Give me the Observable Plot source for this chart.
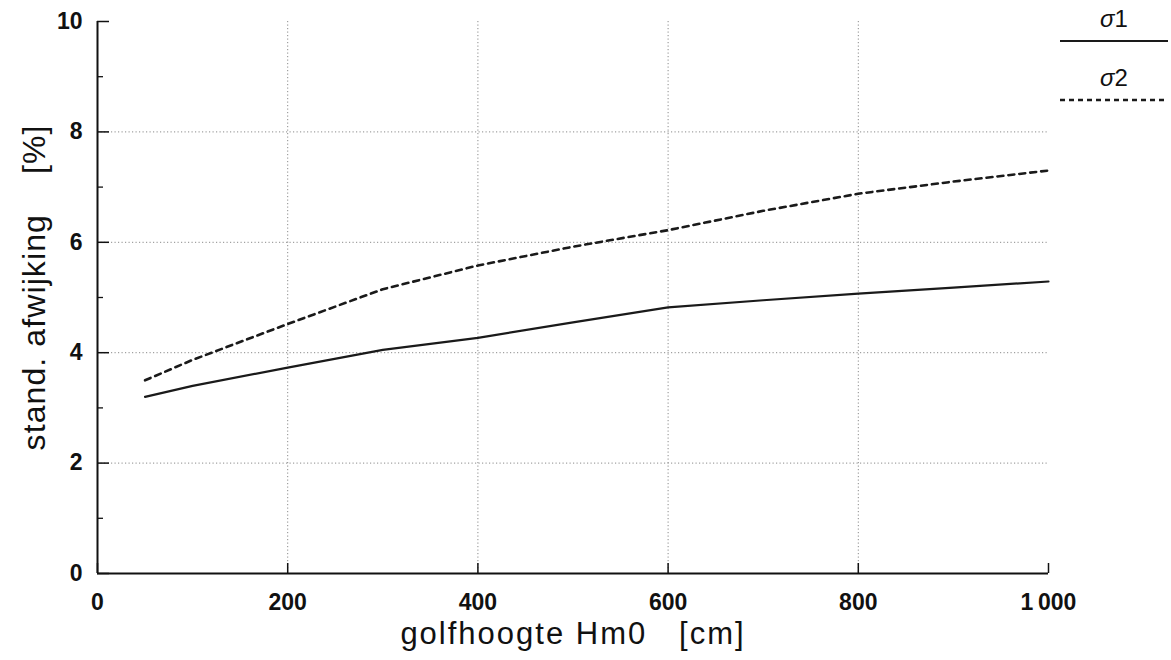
<!DOCTYPE html>
<html><head><meta charset="utf-8">
<script src="https://cdn.jsdelivr.net/npm/d3@7"></script>
<script src="https://cdn.jsdelivr.net/npm/@observablehq/plot@0.6"></script>
<style>
body{margin:0;background:#fff;font-family:"Liberation Sans",Arial,sans-serif;color:#111;}
#wrap{position:relative;width:1171px;height:660px;}
#legend{position:absolute;left:1058px;top:0;width:112px;}
#legend .lab{position:absolute;width:112px;text-align:center;font-size:24px;left:0;line-height:28px;}
#legend svg{position:absolute;left:0;}
</style></head><body><div id="wrap"><div id="legend"></div></div>
<script>
const hoogte = [50, 100, 200, 300, 400, 500, 600, 700, 800, 900, 1000];
const sigma1 = [3.2, 3.4, 3.73, 4.05, 4.27, 4.55, 4.82, 4.95, 5.07, 5.18, 5.29];
const sigma2 = [3.5, 3.87, 4.52, 5.15, 5.58, 5.92, 6.22, 6.57, 6.88, 7.1, 7.3];
const seriesNames = ["σ1", "σ2"];
const xTicks = [0, 200, 400, 600, 800, 1000];
const yMajor = [0, 2, 4, 6, 8, 10];
const yMinor = [1, 3, 5, 7, 9];
const xGrid = [200, 400, 600, 800];
const yGrid = [2, 4, 6, 8];
const xLabel = "golfhoogte Hm0\u00a0\u00a0\u00a0[cm]";
const yLabel = "stand. afwijking\u00a0\u00a0\u00a0\u00a0[%]";

const s1 = hoogte.map((h, i) => ({h, v: sigma1[i]}));
const s2 = hoogte.map((h, i) => ({h, v: sigma2[i]}));
const gridStyle = {stroke: "#8a8a8a", strokeOpacity: 1, strokeWidth: 1, strokeDasharray: "1.2,2.3"};

const chart = Plot.plot({
  width: 1171, height: 660,
  marginLeft: 97, marginRight: 123, marginTop: 21, marginBottom: 87,
  style: {fontFamily: "Liberation Sans, Arial, sans-serif", fontSize: "23px", color: "#111", background: "white"},
  x: {domain: [0, 1000]},
  y: {domain: [0, 10]},
  marks: [
    Plot.gridX(xGrid, gridStyle),
    Plot.gridY(yGrid, gridStyle),
    Plot.axisY(yMajor, {tickSize: -12, tickPadding: 27, fontSize: 23, fontWeight: 600, strokeWidth: 1.5, label: null, tickFormat: d => String(d)}),
    Plot.axisY(yMinor, {tickSize: -6, tickPadding: 0, strokeWidth: 1.3, label: null, tickFormat: () => ""}),
    Plot.axisX(xTicks, {tickSize: -10, tickPadding: 30, fontSize: 23, fontWeight: 600, strokeWidth: 1.5, label: null,
      tickFormat: d => d === 1000 ? "1\u2009000" : String(d)}),
    Plot.ruleX([0], {stroke: "#111", strokeWidth: 2}),
    Plot.ruleY([0], {stroke: "#111", strokeWidth: 2}),
    Plot.line(s1, {x: "h", y: "v", stroke: "#1a1a1a", strokeWidth: 2.2}),
    Plot.line(s2, {x: "h", y: "v", stroke: "#1a1a1a", strokeWidth: 2.6, strokeDasharray: "6,5"}),
    Plot.text([yLabel], {text: d => d, frameAnchor: "left", textAnchor: "middle", rotate: -90, dx: -63, dy: -10, fontSize: 32, fill: "#111"}),
    Plot.text([xLabel], {text: d => d, frameAnchor: "bottom", textAnchor: "middle", dx: 0, dy: 70, fontSize: 31, fill: "#111"})
  ]
});
// letter spacing to mimic the wider original lettering
d3.select(chart).selectAll("text").filter(function() { return this.textContent === yLabel || this.textContent === xLabel; })
  .style("letter-spacing", function() { return this.textContent === xLabel ? "2px" : "1.1px"; });
const wrap = document.getElementById("wrap");
wrap.insertBefore(chart, wrap.firstChild);

const legend = document.getElementById("legend");
const tops = [5, 64];
seriesNames.forEach((name, i) => {
  const lab = document.createElement("div");
  lab.className = "lab";
  lab.style.top = tops[i] + "px";
  lab.innerHTML = "<i>" + name[0] + "</i>" + name.slice(1);
  legend.appendChild(lab);
  const svg = d3.create("svg").attr("width", 112).attr("height", 6).style("top", (tops[i] + 33) + "px");
  svg.append("line").attr("x1", 2).attr("x2", 110).attr("y1", 3).attr("y2", 3)
    .attr("stroke", "#1a1a1a").attr("stroke-width", i === 0 ? 2.2 : 2.4)
    .attr("stroke-dasharray", i === 0 ? null : "5,4");
  legend.appendChild(svg.node());
});
</script>
</body></html>
